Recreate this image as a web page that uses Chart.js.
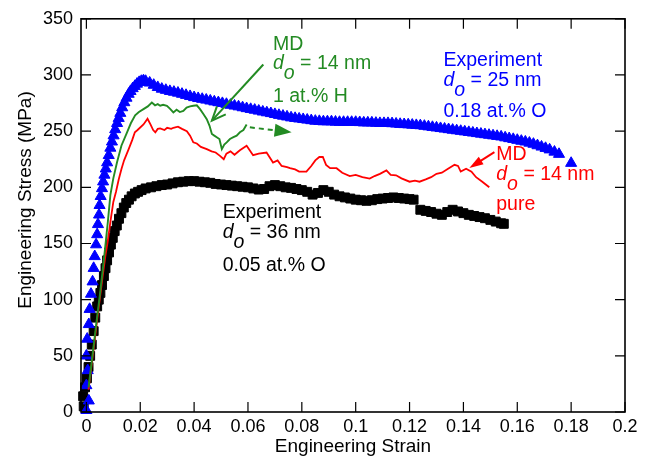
<!DOCTYPE html>
<html>
<head>
<meta charset="utf-8">
<script src="https://cdn.jsdelivr.net/npm/chart.js@4"></script>
<style>html,body{margin:0;padding:0;background:#fff}canvas{display:block}</style>
</head>
<body>
<canvas id="stressStrain" width="653" height="459"></canvas>
<script>
// axis ticks
var xTicks=[0,0.02,0.04,0.06,0.08,0.1,0.12,0.14,0.16,0.18,0.2];
var yTicks=[0,50,100,150,200,250,300,350];

// Experiment, d_o = 25 nm, 0.18 at.% O (blue triangles)
var blueStrain=[0,0.0009,0,0.0005,0,0.0003,0.0009,0.0012,0.0017,0.0023,
  0.0027,0.0031,0.0036,0.004,0.0043,0.0047,0.0049,0.0053,0.0058,0.0062,
  0.0067,0.0072,0.0077,0.0083,0.0089,0.0095,0.0101,0.0107,0.0114,0.012,
  0.0126,0.0133,0.0141,0.0149,0.0157,0.0164,0.0172,0.018,0.0188,0.0196,0.0204,0.0212,
  0.022,0.0235,0.025,0.0265,0.028,0.0295,0.031,0.0325,0.034,0.0355,
  0.037,0.0385,0.040,0.0415,0.043,0.0445,0.046,0.0475,0.049,0.0505,
  0.052,0.0535,0.055,0.0565,0.058,0.0595,0.061,0.0625,0.064,0.0655,
  0.067,0.0685,0.070,0.0715,0.073,0.0745,0.076,0.0775,0.079,0.0805,
  0.082,0.0835,0.085,0.0865,0.088,0.0895,0.091,0.0925,0.094,0.0955,
  0.097,0.0985,0.100,0.1015,0.103,0.1045,0.106,0.1075,0.109,0.1105,
  0.112,0.1135,0.115,0.1165,0.118,0.1195,0.121,0.1225,0.124,0.1255,
  0.127,0.1285,0.130,0.1315,0.133,0.1345,0.136,0.1375,0.139,0.1405,
  0.142,0.1435,0.145,0.1465,0.148,0.1495,0.151,0.1525,0.154,0.1555,
  0.157,0.1585,0.160,0.1615,0.163,0.1645,0.166,0.1675,0.169,0.1705,
  0.172,0.1738,0.1755,0.18];
var blueStress=[1.5,10,23.6,37,50,65,78,91.5,105,116,
  128,138.5,149,158,167,175.5,184,192,199,205,
  211,216.5,222,228.5,235,240.5,246,251.5,257,261.5,
  266,271,275.5,279.5,283,285.5,288,290,292,293.5,294.5,295,
  294.5,293,291,289,287.5,286.5,285.5,284.8,284,283,
  282,281,280,279.2,278.5,277.8,277,276.2,275.5,274.8,
  274,273.2,272.5,271.8,271,270.2,269.5,268.8,268,267.2,
  266.5,265.8,265,264.2,263.5,262.8,262,261.5,261,260.5,
  260,259.5,259,258.8,258.5,258.5,258.5,258.2,258,258,
  258,258,258,257.8,257.5,257.5,257.5,257.2,257,257,
  257,256.8,256.5,256.2,256,255.8,255.5,255.2,255,254.5,
  254,253.5,253,252.5,252,251.5,251,250.5,250,249.5,
  249,248.5,248,247.5,247,246.5,246,245.5,245,244.2,
  243.5,242.8,242,241.2,240.5,239.5,238.5,237.2,236,234.8,
  233.5,231.5,229.5,221.5];

// Experiment, d_o = 36 nm, 0.05 at.% O (black squares)
var blackStrain=[-0.001,-0.0012,-0.0005,0.0002,0.0008,0.0014,0.002,0.0027,0.0033,0.004,
  0.0046,0.0052,0.0058,0.0065,0.0071,0.0077,0.0084,0.0091,0.0098,0.0105,
  0.0113,0.0121,0.013,0.0139,0.0148,0.0158,0.0168,0.018,0.0192,0.0205,
  0.022,0.024,0.026,0.028,0.030,0.032,0.034,0.036,0.038,0.040,
  0.042,0.044,0.046,0.048,0.050,0.052,0.054,0.056,0.058,0.060,
  0.062,0.064,0.066,0.068,0.070,0.072,0.074,0.076,0.078,0.080,
  0.082,0.084,0.086,0.088,0.090,0.092,0.094,0.096,0.098,0.100,
  0.102,0.104,0.106,0.108,0.110,0.112,0.114,0.116,0.118,0.120,
  0.1215,0.124,0.126,0.128,0.130,0.132,0.134,0.136,0.138,0.140,
  0.142,0.144,0.146,0.148,0.150,0.152,0.154,0.155];
var blackStress=[5,14,22,30,40,50,60,72,84,94,
  100,106,113,121,128,135,142,149,155,161,
  166,172,177,182,186,189,192,194.5,196,197.5,
  199,200,201,202,202.5,203.5,204.5,205,205.5,205.5,
  205,204.5,204,203,202.5,202,201.5,201,200.5,200,
  199,198,198.5,201,202,201,200,199.5,198.5,197.5,
  196,193.5,195,197.5,196,193.5,192,191,190,189,
  188.5,188,188.5,189.5,190,190.5,191,190.5,190,189.5,
  189,180,179,178,176.5,175.5,178,180,178.5,177,
  175.5,174.5,173.5,172.5,171,169.5,168,167.5];

// MD, d_o = 14 nm, pure (red line)
var redStrain=[0.0008,0.002,0.003,0.004,0.005,0.006,0.007,0.008,0.0089,0.01,
  0.011,0.012,0.013,0.014,0.0157,0.017,0.018,0.019,0.0212,0.0227,
  0.0238,0.0248,0.0256,0.0265,0.0274,0.029,0.030,0.0315,0.0323,0.034,
  0.0355,0.0373,0.0385,0.0397,0.041,0.0425,0.0447,0.0465,0.048,0.0496,
  0.051,0.052,0.0535,0.055,0.057,0.0595,0.0619,0.064,0.0669,0.0693,
  0.071,0.0725,0.0745,0.0756,0.0775,0.079,0.0817,0.0835,0.085,0.0865,
  0.0878,0.089,0.0905,0.0929,0.095,0.0978,0.1,0.1025,0.1052,0.107,
  0.109,0.1114,0.113,0.115,0.117,0.12,0.122,0.1237,0.126,0.128,
  0.13,0.132,0.134,0.1367,0.138,0.139,0.141,0.143,0.1447,0.147,0.1496];
var redStress=[20,43,62,82,101,120,138,153,169,187,
  196,207,216,224,234,242,249,251,256,261,
  256,251,249,252,252.5,251,253,252,253,254,
  252,250,246,240,239,236,234,232,231,228,
  225,230,232,229,233,237,228.6,230,231,222,
  224,219,218,217,216,214,214,219,224,227,
  227,220,217,217,213,210,211,209,207.7,210,
  212,215,211,210.7,208,205,206,205,207,209,
  212,213,216,220,219,214,216.6,214,209,205,200];

// MD, d_o = 14 nm, 1 at.% H (green line)
var greenStrain=[0.0008,0.002,0.003,0.004,0.005,0.006,0.007,0.008,0.0089,0.01,
  0.0114,0.013,0.0151,0.0165,0.0181,0.0195,0.0212,0.0228,0.0243,0.0255,
  0.0265,0.0274,0.0285,0.0299,0.031,0.0323,0.0335,0.0347,0.036,0.0372,
  0.0385,0.0397,0.041,0.0422,0.0435,0.0447,0.0457,0.0466,0.0475,0.0484,
  0.0494,0.0503,0.0512,0.0521,0.0533,0.0546,0.0558,0.057,0.0583,0.0595];
var greenStress=[22,45,65,85,104,125,147,170,193,208,
  222.5,237,249,257,264,267,269.6,272,275.5,273,
  274,272.6,273.5,272.6,270,266.7,269,267,268,271,
  272,272.6,273,269.6,265,260.7,255,247.5,246,244.6,
  243,234,238,240,243,244.6,246,249,251,256];

var FONT='"Liberation Sans", Arial, Helvetica, sans-serif';
var GREEN='#238b23', BLUE='#0000ff', RED='#ff0000', BLACK='#000000';

// text blocks: anchor strain, baseline stress for each line; 'd' marks the italic d_o prefix
var notes=[
  {color:GREEN,x:0.0693,base:[322.3,305,275.5],lines:[['MD'],['d',' = 14 nm'],['1 at.% H']]},
  {color:BLUE,x:0.1326,base:[307.9,290.3,262.2],lines:[['Experiment'],['d',' = 25 nm'],['0.18 at.% O']]},
  {color:RED,x:0.1522,base:[224,206.3,180],lines:[['MD'],['d',' = 14 nm'],['pure']]},
  {color:BLACK,x:0.0506,base:[172.4,154.7,125.9],lines:[['Experiment'],['d',' = 36 nm'],['0.05 at.% O']]}
];
var arrows=[
  {color:GREEN,from:[0.0657,309.3],to:[0.0466,259.3],head:'open',len:14,wid:12},
  {color:GREEN,from:[0.0607,253.4],to:[0.0762,249],head:'fill',len:17,wid:13,dash:[5,4]},
  {color:RED,from:[0.1515,231.3],to:[0.1422,217.2],head:'fill',len:14,wid:9}
];

function zip(xs,ys){
  var n=Math.min(xs.length,ys.length),out=[];
  for(var i=0;i<n;i++)out.push({x:xs[i],y:ys[i]});
  return out;
}

function drawArrow(ctx,x1,y1,x2,y2,a){
  var ang=Math.atan2(y2-y1,x2-x1),c=Math.cos(ang),s=Math.sin(ang);
  var bx=x2-c*a.len,by=y2-s*a.len;
  ctx.strokeStyle=a.color;ctx.fillStyle=a.color;ctx.lineWidth=2;
  ctx.setLineDash(a.dash||[]);
  ctx.beginPath();ctx.moveTo(x1,y1);
  if(a.head==='fill')ctx.lineTo(bx+c*3,by+s*3);else ctx.lineTo(x2,y2);
  ctx.stroke();
  ctx.setLineDash([]);
  var lx=bx+s*a.wid/2,ly=by-c*a.wid/2,rx=bx-s*a.wid/2,ry=by+c*a.wid/2;
  ctx.beginPath();ctx.moveTo(lx,ly);ctx.lineTo(x2,y2);ctx.lineTo(rx,ry);
  if(a.head==='fill'){ctx.closePath();ctx.fill();}else ctx.stroke();
}

var framePlugin={
  id:'frame',
  afterDraw:function(chart){
    var ctx=chart.ctx,a=chart.chartArea,xs=chart.scales.x,ys=chart.scales.y;
    ctx.save();
    // inward ticks on all four sides
    ctx.strokeStyle='#000';ctx.lineWidth=1.2;
    ctx.beginPath();
    xTicks.forEach(function(v){var p=xs.getPixelForValue(v);
      ctx.moveTo(p,a.bottom);ctx.lineTo(p,a.bottom-10);ctx.moveTo(p,a.top);ctx.lineTo(p,a.top+10);});
    yTicks.forEach(function(v){var p=ys.getPixelForValue(v);
      ctx.moveTo(a.left,p);ctx.lineTo(a.left+10,p);ctx.moveTo(a.right,p);ctx.lineTo(a.right-10,p);});
    ctx.stroke();
    ctx.lineWidth=1.6;
    ctx.strokeRect(a.left,a.top,a.right-a.left,a.bottom-a.top);

    // y title (sits a little above the plot centre in the original)
    ctx.fillStyle='#000';ctx.font='19px '+FONT;
    ctx.textAlign='center';ctx.textBaseline='middle';
    ctx.translate(26,200);ctx.rotate(-Math.PI/2);
    ctx.fillText('Engineering Stress (MPa)',0,0);
    ctx.setTransform(1,0,0,1,0,0);

    // arrows
    arrows.forEach(function(ar){
      drawArrow(ctx,xs.getPixelForValue(ar.from[0]),ys.getPixelForValue(ar.from[1]),
        xs.getPixelForValue(ar.to[0]),ys.getPixelForValue(ar.to[1]),ar);
    });

    // labels
    ctx.textAlign='left';ctx.textBaseline='alphabetic';
    notes.forEach(function(n){
      ctx.fillStyle=n.color;
      var x0=xs.getPixelForValue(n.x);
      n.lines.forEach(function(parts,i){
        var y=ys.getPixelForValue(n.base[i]),x=x0;
        if(parts[0]==='d'){
          ctx.font='italic 19.5px '+FONT;
          ctx.fillText('d',x,y);x+=ctx.measureText('d').width;
          ctx.fillText('o',x,y+10);x+=ctx.measureText('o').width;
          ctx.font='19.5px '+FONT;
          ctx.fillText(parts[1],x,y);
        }else{
          ctx.font='19.5px '+FONT;
          ctx.fillText(parts[0],x,y);
        }
      });
    });
    ctx.restore();
  }
};

new Chart(document.getElementById('stressStrain'),{
  type:'scatter',
  data:{datasets:[
    {label:'MD 1 at.% H',data:zip(greenStrain,greenStress),showLine:true,borderColor:GREEN,borderWidth:1.9,pointRadius:0,order:1},
    {label:'MD pure',data:zip(redStrain,redStress),showLine:true,borderColor:RED,borderWidth:1.8,pointRadius:0,order:2},
    {label:'Experiment 25 nm',data:zip(blueStrain,blueStress),pointStyle:'triangle',pointRadius:6.4,borderWidth:1,
      backgroundColor:BLUE,borderColor:BLUE,clip:false,order:3},
    {label:'Experiment 36 nm',data:zip(blackStrain,blackStress),pointStyle:'rect',pointRadius:6.3,borderWidth:1,
      backgroundColor:BLACK,borderColor:BLACK,clip:false,order:4}
  ]},
  options:{
    responsive:false,animation:false,devicePixelRatio:1,events:[],
    layout:{padding:{left:0,right:28,top:17,bottom:0}},
    plugins:{legend:{display:false},tooltip:{enabled:false}},
    scales:{
      x:{type:'linear',min:-0.002,max:0.2,
        afterBuildTicks:function(s){s.ticks=xTicks.map(function(v){return {value:v};});},
        afterFit:function(s){s.height=47;},
        grid:{display:false,drawTicks:false},border:{display:false},
        ticks:{color:'#000',padding:4,maxRotation:0,autoSkip:false,font:{family:FONT,size:18},
          callback:function(v){return String(+v.toFixed(3));}},
        title:{display:true,text:'Engineering Strain',color:'#000',font:{family:FONT,size:19},padding:{top:0,bottom:1}}
      },
      y:{type:'linear',min:0,max:350,
        afterBuildTicks:function(s){s.ticks=yTicks.map(function(v){return {value:v};});},
        afterFit:function(s){s.width=81;},
        grid:{display:false,drawTicks:false},border:{display:false},
        ticks:{color:'#000',padding:8,autoSkip:false,font:{family:FONT,size:18}}
      }
    }
  },
  plugins:[framePlugin]
});
</script>
</body>
</html>
